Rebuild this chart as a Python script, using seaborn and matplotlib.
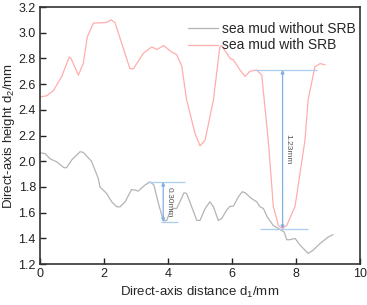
import matplotlib
matplotlib.use("Agg")
import matplotlib.pyplot as plt
import seaborn as sns
import pandas as pd

# curve: sea mud with SRB
with_srb_x = [0.0, 0.21, 0.42, 0.68, 0.91, 0.97, 1.20, 1.35, 1.48, 1.67, 2.08, 2.22, 2.34,
              2.55, 2.81, 2.92, 3.23, 3.49, 3.65, 3.87, 4.11, 4.27, 4.43, 4.58, 4.84, 5.00,
              5.16, 5.42, 5.62, 5.68, 5.94, 6.04, 6.25, 6.41, 6.56, 6.77, 6.93, 7.14, 7.29,
              7.45, 7.57, 7.71, 7.97, 8.28, 8.38, 8.59, 8.75, 8.91]
with_srb_y = [2.50, 2.51, 2.55, 2.66, 2.81, 2.80, 2.67, 2.76, 2.97, 3.075, 3.08, 3.10, 3.08,
              2.92, 2.72, 2.72, 2.84, 2.89, 2.87, 2.90, 2.85, 2.83, 2.74, 2.48, 2.22, 2.12,
              2.165, 2.48, 2.89, 2.90, 2.80, 2.79, 2.71, 2.66, 2.70, 2.71, 2.67, 2.14, 1.65,
              1.50, 1.478, 1.50, 1.65, 2.165, 2.48, 2.735, 2.76, 2.75]

# curve: sea mud without SRB
without_srb_x = [0.0, 0.16, 0.31, 0.52, 0.75, 0.83, 0.99, 1.25, 1.35, 1.61, 1.82, 1.875,
                 2.08, 2.24, 2.40, 2.50, 2.66, 2.86, 2.97, 3.07, 3.28, 3.44, 3.56, 3.70,
                 3.82, 3.88, 3.96, 4.06, 4.17, 4.27, 4.40, 4.50, 4.58, 4.74, 4.90, 5.00,
                 5.16, 5.31, 5.42, 5.57, 5.68, 5.83, 5.94, 6.04, 6.20, 6.32, 6.41, 6.61,
                 6.77, 6.875, 6.98, 7.10, 7.29, 7.50, 7.63, 7.71, 7.81, 7.97, 8.125, 8.38,
                 8.54, 8.75, 9.0, 9.16]
without_srb_y = [2.066, 2.06, 2.02, 1.996, 1.95, 1.95, 2.01, 2.074, 2.07, 2.00, 1.867, 1.80,
                 1.75, 1.685, 1.646, 1.646, 1.685, 1.78, 1.776, 1.768, 1.815, 1.84, 1.815,
                 1.672, 1.568, 1.537, 1.54, 1.607, 1.633, 1.633, 1.70, 1.755, 1.75, 1.646,
                 1.54, 1.54, 1.633, 1.685, 1.646, 1.54, 1.555, 1.62, 1.65, 1.65, 1.724,
                 1.763, 1.755, 1.71, 1.685, 1.646, 1.633, 1.568, 1.50, 1.47, 1.45, 1.39,
                 1.39, 1.40, 1.348, 1.283, 1.31, 1.36, 1.41, 1.43]

series_names = ["sea mud without SRB", "sea mud with SRB"]
series_colors = ["#b4b4b4", "#ffadad"]

# depth markers: (top, bottom, arrow x, label)
depth_marks = [(1.84, 1.527, 3.85, "0.30mm"), (2.712, 1.472, 7.58, "1.23mm")]

sns.set_style("ticks")
plt.rcParams["font.family"] = ["Liberation Sans", "DejaVu Sans"]
plt.rcParams["mathtext.fontset"] = "custom"
plt.rcParams["mathtext.rm"] = "Liberation Sans"
plt.rcParams["mathtext.default"] = "regular"

df = pd.concat([
    pd.DataFrame({"x": without_srb_x, "y": without_srb_y, "sample": series_names[0]}),
    pd.DataFrame({"x": with_srb_x, "y": with_srb_y, "sample": series_names[1]}),
])

fig = plt.figure(figsize=(3.67, 3.05), dpi=100)
ax = fig.add_axes([0.109, 0.134, 0.872, 0.843])

sns.lineplot(data=df, x="x", y="y", hue="sample", palette=series_colors,
             sort=False, linewidth=0.9, ax=ax)

# depth annotations
ax.hlines(1.84, 3.33, 4.53, color="#a9cdee", lw=0.9)
ax.hlines(1.527, 3.78, 4.32, color="#a9cdee", lw=0.9)
ax.hlines(2.712, 6.72, 8.65, color="#a9cdee", lw=0.9)
ax.hlines(1.472, 6.875, 8.36, color="#a9cdee", lw=0.9)
for top, bottom, xa, label in depth_marks:
    ax.annotate("", xy=(xa, bottom), xytext=(xa, top),
                arrowprops=dict(arrowstyle="<|-|>", color="#7fb0e0", lw=0.9,
                                mutation_scale=5, shrinkA=0, shrinkB=0))
    ax.text(xa + 0.17, (top + bottom) / 2, label, rotation=-90, fontsize=6,
            color="#555555", ha="center", va="center")

ax.set_xlim(0, 10)
ax.set_ylim(1.2, 3.2)
ax.set_xticks([0, 2, 4, 6, 8, 10])
ax.set_yticks([1.2, 1.4, 1.6, 1.8, 2.0, 2.2, 2.4, 2.6, 2.8, 3.0, 3.2])
ax.tick_params(direction="in", length=4, width=1, labelsize=9, colors="#222222", pad=3)
for s in ax.spines.values():
    s.set_visible(True)
    s.set_linewidth(1.2)
    s.set_color("#333333")

ax.set_xlabel("Direct-axis distance d$_1$/mm", fontsize=9.5, labelpad=3)
ax.set_ylabel("Direct-axis height d$_2$/mm", fontsize=9.5, labelpad=1)

ax.legend(loc="upper left", bbox_to_anchor=(0.44, 0.97), frameon=False, fontsize=10,
          handlelength=2.2, handletextpad=0.3, labelspacing=0.2, borderpad=0)

fig.savefig("out.png", dpi=100)
